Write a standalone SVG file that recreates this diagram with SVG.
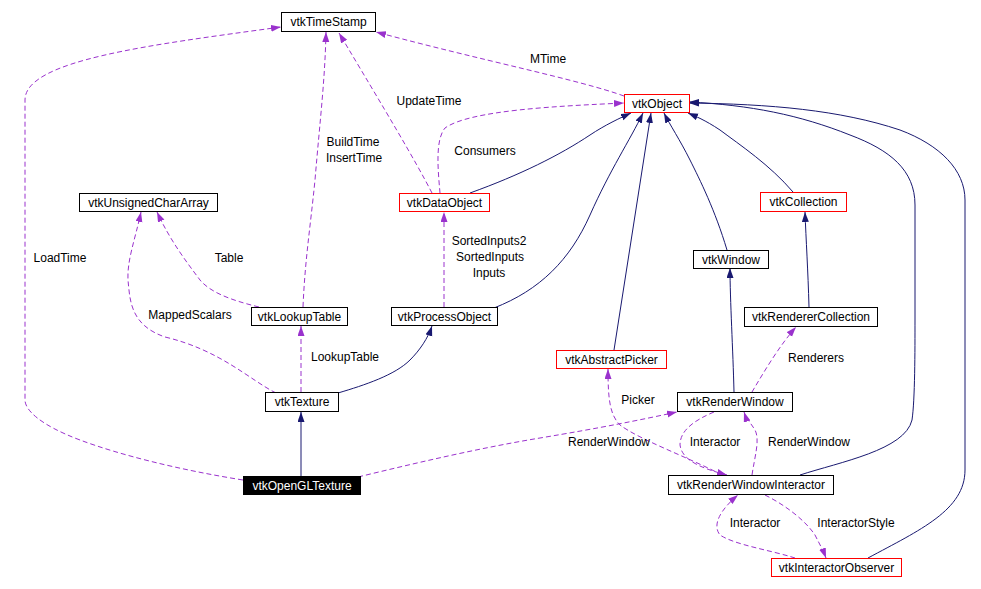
<svg xmlns="http://www.w3.org/2000/svg" width="981" height="589" viewBox="0 0 981 589">
<style>
text{font-family:"Liberation Sans",Arial,sans-serif;font-size:12px;fill:#000;text-anchor:middle}
.n rect{fill:#fff;stroke:#000;stroke-width:1}
.r rect{stroke:#ff0000}
.d{fill:none;stroke:#9a32cd;stroke-width:1;stroke-dasharray:5,3;marker-end:url(#ap)}
.s{fill:none;stroke:#191970;stroke-width:1;marker-end:url(#ab)}
</style>
<defs>
<marker id="ap" markerUnits="userSpaceOnUse" markerWidth="12" markerHeight="10" refX="10" refY="3.5" orient="auto"><path d="M0,0 L10,3.5 L0,7 z" fill="#9a32cd" stroke="none"/></marker>
<marker id="ab" markerUnits="userSpaceOnUse" markerWidth="12" markerHeight="10" refX="10" refY="3.5" orient="auto"><path d="M0,0 L10,3.5 L0,7 z" fill="#191970" stroke="none"/></marker>
</defs>
<rect width="981" height="589" fill="#fff"/>
<g id="edges">
<path class="d" d="M624,96 C580,80 480,60 376,32"/>
<path class="d" d="M432,193 C415,160 385,110 339,33"/>
<path class="d" d="M303,307 C305,260 310,230 315,180 C320,120 325,80 326,32"/>
<path class="d" d="M243,480 C180,470 120,455 80,440 C40,425 25,410 25,400 L25,100 C25,60 150,45 281,27"/>
<path class="d" d="M440,193 C438,170 435,140 445,128 C470,110 560,106 624,103"/>
<path class="s" d="M470,193 C520,175 560,155 590,135 C605,125 620,118 631,113"/>
<path class="s" d="M494,308 C540,290 570,260 590,215 C610,170 630,140 643,113"/>
<path class="s" d="M614,350 L651,113"/>
<path class="s" d="M727,250 C715,210 700,180 690,160 C680,140 670,125 664,113"/>
<path class="s" d="M793,192 C770,165 740,145 720,130 C705,120 695,116 688,113"/>
<path class="s" d="M800,475 C840,462 905,450 912,420 C915,400 915,350 915,320 L915,205 C915,170 890,150 850,135 C800,115 750,105 689,102"/>
<path class="s" d="M868,558 C920,530 965,510 965,470 L965,200 C965,170 940,145 900,130 C840,110 770,104 689,103"/>
<path class="s" d="M809,307 C808,270 806,240 805,212"/>
<path class="s" d="M734,392 C733,350 730,300 730,268"/>
<path class="s" d="M301,476 L301,412"/>
<path class="s" d="M338,393 C365,385 395,375 410,360 C420,350 428,338 432,326"/>
<path class="d" d="M259,307 C230,300 210,292 200,280 C185,260 170,240 157,212"/>
<path class="d" d="M276,393 C250,380 220,350 165,337 C130,325 130,300 128,280 C127,260 135,240 141,212"/>
<path class="d" d="M301,392 L301,326"/>
<path class="d" d="M444,307 L444,212"/>
<path class="d" d="M752,392 C765,370 780,345 796,327"/>
<path class="d" d="M722,475 C690,458 640,440 620,425 C610,415 608,400 608,369"/>
<path class="d" d="M358,477 C420,462 480,448 540,438 C600,428 640,420 677,412"/>
<path class="d" d="M714,412 C695,420 680,430 680,445 C682,460 700,468 727,475"/>
<path class="d" d="M752,475 C755,455 760,440 755,430 C750,422 746,418 744,412"/>
<path class="d" d="M795,558 C770,550 735,545 720,535 C712,525 720,510 738,495"/>
<path class="d" d="M765,495 C785,505 805,520 815,535 C820,545 823,550 826,558"/>
<text x="548" y="63">MTime</text>
<text x="429" y="105">UpdateTime</text>
<text x="353" y="146">BuildTime</text>
<text x="354" y="162">InsertTime</text>
<text x="485" y="155">Consumers</text>
<text x="60" y="262">LoadTime</text>
<text x="229" y="262">Table</text>
<text x="489" y="245">SortedInputs2</text>
<text x="490" y="261">SortedInputs</text>
<text x="489" y="277">Inputs</text>
<text x="190" y="319">MappedScalars</text>
<text x="345" y="361">LookupTable</text>
<text x="816" y="362">Renderers</text>
<text x="638" y="404">Picker</text>
<text x="609" y="446">RenderWindow</text>
<text x="715" y="446">Interactor</text>
<text x="809" y="446">RenderWindow</text>
<text x="755" y="527">Interactor</text>
<text x="856" y="527">InteractorStyle</text>
</g>
<g id="vtkTimeStamp" class="n"><rect x="281.5" y="12.5" width="94" height="19"/><text x="328.5" y="26">vtkTimeStamp</text></g>
<g id="vtkObject" class="n r"><rect x="624.5" y="94.5" width="65" height="18"/><text x="657" y="108">vtkObject</text></g>
<g id="vtkDataObject" class="n r"><rect x="399.5" y="193.5" width="90" height="18"/><text x="444.5" y="207">vtkDataObject</text></g>
<g id="vtkUnsignedCharArray" class="n"><rect x="79.5" y="193.5" width="138" height="18"/><text x="148.5" y="207">vtkUnsignedCharArray</text></g>
<g id="vtkCollection" class="n r"><rect x="760.5" y="192.5" width="86" height="19"/><text x="803.5" y="206">vtkCollection</text></g>
<g id="vtkWindow" class="n"><rect x="693.5" y="250.5" width="75" height="18"/><text x="731" y="264">vtkWindow</text></g>
<g id="vtkLookupTable" class="n"><rect x="251.5" y="307.5" width="96" height="18"/><text x="299.5" y="321">vtkLookupTable</text></g>
<g id="vtkProcessObject" class="n"><rect x="391.5" y="307.5" width="106" height="18"/><text x="444.5" y="321">vtkProcessObject</text></g>
<g id="vtkRendererCollection" class="n"><rect x="744.5" y="307.5" width="133" height="19"/><text x="811" y="321">vtkRendererCollection</text></g>
<g id="vtkAbstractPicker" class="n r"><rect x="556.5" y="350.5" width="110" height="18"/><text x="611.5" y="364">vtkAbstractPicker</text></g>
<g id="vtkTexture" class="n"><rect x="265.5" y="392.5" width="73" height="19"/><text x="302" y="406">vtkTexture</text></g>
<g id="vtkRenderWindow" class="n"><rect x="677.5" y="392.5" width="115" height="19"/><text x="735" y="406">vtkRenderWindow</text></g>
<g id="vtkOpenGLTexture"><rect x="243" y="476" width="118" height="19" fill="#000"/><text x="302" y="490" style="fill:#fff">vtkOpenGLTexture</text></g>
<g id="vtkRenderWindowInteractor" class="n"><rect x="668.5" y="475.5" width="165" height="19"/><text x="751" y="489">vtkRenderWindowInteractor</text></g>
<g id="vtkInteractorObserver" class="n r"><rect x="771.5" y="558.5" width="130" height="18"/><text x="836.5" y="572">vtkInteractorObserver</text></g>
</svg>
